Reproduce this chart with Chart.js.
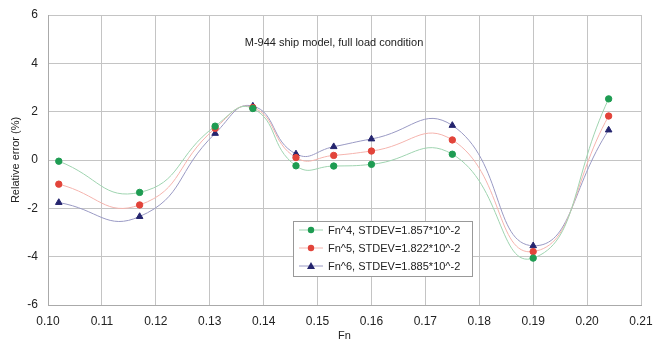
<!DOCTYPE html>
<html>
<head>
<meta charset="utf-8">
<script src="https://cdn.jsdelivr.net/npm/chart.js@4"></script>
<style>
  html, body { margin: 0; padding: 0; background: #fff; }
  #wrap { width: 653px; height: 343px; }
</style>
</head>
<body>
<div id="wrap"><canvas id="grafico" width="653" height="343"></canvas></div>
<script>
var fnValores = [0.102, 0.117, 0.131, 0.138, 0.146, 0.153, 0.160, 0.175, 0.190, 0.204];
var errorFn4 = [-0.05, -1.34, 1.40, 2.13, -0.24, -0.25, -0.18, 0.24, -4.06, 2.53];
var errorFn5 = [-1.00, -1.86, 1.31, 2.17, 0.10, 0.19, 0.37, 0.83, -3.79, 1.82];
var errorFn6 = [-1.76, -2.34, 1.10, 2.23, 0.25, 0.55, 0.87, 1.43, -3.55, 1.24];
var etiquetas = ['Fn^4, STDEV=1.857*10^-2', 'Fn^5, STDEV=1.822*10^-2', 'Fn^6, STDEV=1.885*10^-2'];
var titulo = 'M-944 ship model, full load condition';

var fuente = "'Liberation Sans', Arial, sans-serif";

function puntos(ys) {
    return fnValores.map((x, i) => ({ x: x, y: ys[i] }));
}

const series = [
    { label: etiquetas[0], data: puntos(errorFn4), marca: '#1e9c52', linea: '#9fd4b0', estilo: 'circle' },
    { label: etiquetas[1], data: puntos(errorFn5), marca: '#e2443a', linea: '#f5b4ae', estilo: 'circle' },
    { label: etiquetas[2], data: puntos(errorFn6), marca: '#24246e', linea: '#9a9ac4', estilo: 'triangle' }
];

// leyenda y titulo dibujados dentro del area del grafico
const extras = {
    id: 'extras',
    afterDraw(chart) {
        const c = chart.ctx;
        c.save();
        c.fillStyle = '#222';
        c.font = '11px ' + fuente;
        c.textAlign = 'center';
        c.textBaseline = 'middle';
        c.fillText(titulo, 334, 43);

        const x0 = 293, y0 = 221, w = 179, h = 55;
        c.fillStyle = '#fff';
        c.fillRect(x0, y0, w, h);
        c.strokeStyle = '#999';
        c.lineWidth = 1;
        c.strokeRect(x0 + 0.5, y0 + 0.5, w, h);
        const filas = [230, 248, 266];
        series.forEach((s, i) => {
            const yy = filas[i];
            c.strokeStyle = s.linea;
            c.beginPath();
            c.moveTo(x0 + 6, yy);
            c.lineTo(x0 + 30, yy);
            c.stroke();
            c.fillStyle = s.marca;
            c.beginPath();
            if (s.estilo === 'triangle') {
                c.moveTo(x0 + 18, yy - 4);
                c.lineTo(x0 + 22, yy + 3);
                c.lineTo(x0 + 14, yy + 3);
                c.closePath();
            } else {
                c.arc(x0 + 18, yy, 3.2, 0, Math.PI * 2);
            }
            c.fill();
            c.fillStyle = '#222';
            c.textAlign = 'left';
            c.fillText(s.label, x0 + 35, yy + 1);
        });
        c.restore();
    }
};

new Chart(document.getElementById('grafico').getContext('2d'), {
    type: 'line',
    data: {
        datasets: series.map(s => ({
            label: s.label,
            data: s.data,
            borderColor: s.linea,
            backgroundColor: s.marca,
            pointBackgroundColor: s.marca,
            pointBorderColor: s.marca,
            pointStyle: s.estilo,
            pointRadius: s.estilo === 'triangle' ? 3.8 : 3.2,
            borderWidth: 1,
            tension: 0.5,
            fill: false
        }))
    },
    options: {
        responsive: false,
        animation: false,
        layout: { padding: { top: 15, right: 12, left: 9, bottom: 0 } },
        plugins: {
            legend: { display: false },
            tooltip: { enabled: false }
        },
        scales: {
            x: {
                type: 'linear',
                min: 0.10,
                max: 0.21,
                ticks: {
                    stepSize: 0.01,
                    color: '#222',
                    font: { family: fuente, size: 12 },
                    padding: 9,
                    callback: v => v.toFixed(2)
                },
                grid: { color: '#c4c4c4', drawTicks: false },
                border: { color: '#aaa' },
                title: { display: true, text: 'Fn', color: '#222', font: { family: fuente, size: 11 }, padding: { top: 0, bottom: 0 } },
                afterFit: s => { s.height = 38; s.paddingLeft = 0; s.paddingRight = 0; }
            },
            y: {
                min: -6,
                max: 6,
                ticks: {
                    stepSize: 2,
                    color: '#222',
                    font: { family: fuente, size: 12 },
                    padding: 10
                },
                grid: { color: '#c4c4c4', drawTicks: false },
                border: { color: '#aaa' },
                title: { display: true, text: 'Relative error (%)', color: '#222', font: { family: fuente, size: 11 }, padding: { top: 0, bottom: 0 } },
                afterFit: s => { s.width = 39; s.paddingTop = 0; s.paddingBottom = 0; }
            }
        }
    },
    plugins: [extras]
});
</script>
</body>
</html>
